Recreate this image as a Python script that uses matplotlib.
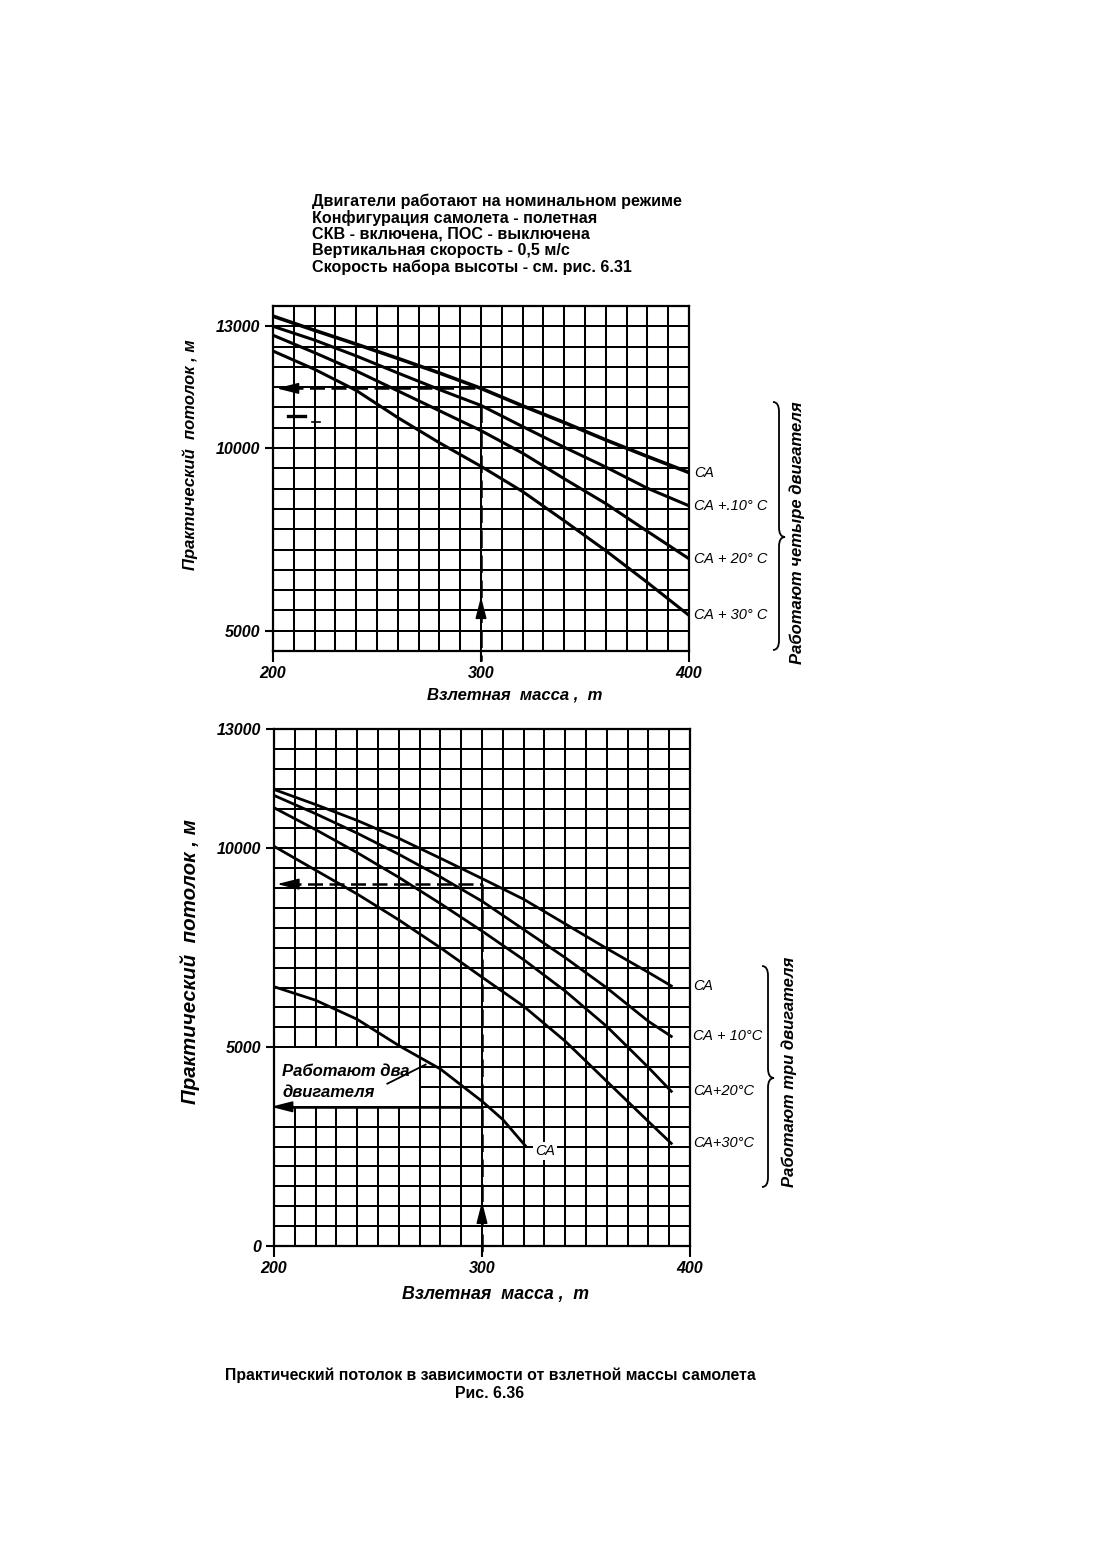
import numpy as np
import matplotlib
matplotlib.use('Agg')
import matplotlib.pyplot as plt
from matplotlib.path import Path
from matplotlib.patches import PathPatch, Rectangle
from matplotlib import font_manager as fm

plt.rcParams['font.family'] = ['Liberation Sans', 'DejaVu Sans']

try:
    fm.findfont(fm.FontProperties(family='Liberation Sans Narrow'), fallback_to_default=False)
    narrow = ['Liberation Sans Narrow', 'DejaVu Sans']
    narrow_size = 12.5
except Exception:
    narrow = ['Liberation Sans', 'DejaVu Sans']
    narrow_size = 10.5

# ---------------- data ----------------
# four engines operating (top chart)
mass_4eng = [200, 220, 240, 260, 280, 300, 320, 340, 360, 380, 400]
ceil_4_sa = [13250, 12900, 12560, 12210, 11850, 11470, 11040, 10630, 10200, 9770, 9330]
ceil_4_sa10 = [13000, 12660, 12270, 11850, 11440, 11050, 10530, 10020, 9480, 8900, 8420]
ceil_4_sa20 = [12780, 12350, 11900, 11410, 10920, 10430, 9860, 9160, 8480, 7720, 6970]
ceil_4_sa30 = [12390, 11940, 11420, 10750, 10130, 9500, 8810, 8010, 7190, 6320, 5420]
labels_4 = ['СА', 'СА +.10° С', 'СА + 20° С', 'СА + 30° С']

# three engines operating (bottom chart)
mass_3eng = [200, 220, 240, 260, 280, 300, 320, 340, 360, 380, 391]
ceil_3_sa = [11480, 11100, 10700, 10250, 9750, 9240, 8720, 8100, 7480, 6880, 6540]
ceil_3_sa10 = [11330, 10870, 10380, 9850, 9280, 8670, 7960, 7250, 6490, 5650, 5270]
ceil_3_sa20 = [11020, 10470, 9890, 9270, 8610, 7920, 7200, 6410, 5520, 4490, 3890]
ceil_3_sa30 = [10050, 9450, 8850, 8200, 7500, 6760, 6030, 5150, 4140, 3130, 2580]
labels_3 = ['СА', 'СА + 10°С', 'СА+20°С', 'СА+30°С']

# two engines operating
mass_2eng = [200, 220, 240, 260, 280, 300, 310, 321]
ceil_2_sa = [6520, 6180, 5700, 5040, 4450, 3640, 3180, 2510]

# worked example
example_mass = 300
example_ceil_4 = 11470
example_start_4 = 11050
example_ceil_3 = 9100
example_ceil_2 = 3500

x_ticks = [200, 300, 400]
y_ticks_top = [5000, 10000, 13000]
y_ticks_bot = [0, 5000, 10000, 13000]

header = ['Двигатели работают на номинальном режиме',
          'Конфигурация самолета - полетная',
          'СКВ - включена, ПОС - выключена',
          'Вертикальная скорость - 0,5 м/с',
          'Скорость набора высоты - см. рис. 6.31']

W, H = 1111, 1563
fig = plt.figure(figsize=(W / 100, H / 100), dpi=100)
fig.patch.set_facecolor('white')


def fpos(l, t, r, b):
    return [l / W, 1 - b / H, (r - l) / W, (b - t) / H]


# piecewise linear vertical scale of the upper chart (cells of 500 m above 10000, 5000/9 m below)
def fwd(y):
    y = np.asarray(y, dtype=float)
    return np.where(y >= 10000, (y - 10000) / 500.0, (y - 10000) / (5000.0 / 9))


def inv(c):
    c = np.asarray(c, dtype=float)
    return np.where(c >= 0, 10000 + c * 500.0, 10000 + c * 5000.0 / 9)


tick_font = dict(fontstyle='italic', fontweight='bold', fontsize=11.5)


def style(ax):
    ax.set_xlim(200, 400)
    ax.set_xticks(x_ticks)
    ax.set_xticks(np.arange(200, 401, 10), minor=True)
    ax.set_xticklabels([str(v) for v in x_ticks], **tick_font)
    ax.grid(which='both', color='black', lw=1.45)
    ax.set_axisbelow(True)
    for s in ax.spines.values():
        s.set_linewidth(1.6)
    ax.tick_params(which='minor', length=0)
    ax.tick_params(which='major', direction='out', length=8, width=1.5, pad=3)


def arrowhead(ax, tip, base, ms=12):
    ax.annotate('', xy=tip, xytext=base,
                arrowprops=dict(arrowstyle='-|>,head_length=1.1,head_width=0.28',
                                color='black', lw=1.2, shrinkA=0, shrinkB=0,
                                mutation_scale=ms), annotation_clip=False)


lab_font = dict(fontsize=narrow_size, fontstyle='italic', family=narrow)

# ---------------- top chart ----------------
ax1 = fig.add_axes(fpos(273, 306, 689, 651))
ax1.set_yscale('function', functions=(fwd, inv))
ax1.set_ylim(float(inv(-10)), 13500)
style(ax1)
ax1.set_yticks(y_ticks_top)
ax1.set_yticks(inv(np.arange(-10, 8)), minor=True)
ax1.set_yticklabels([str(v) for v in y_ticks_top], **tick_font)
ax1.tick_params(axis='y', which='major', length=6)

for vals, lw in [(ceil_4_sa, 2.6), (ceil_4_sa10, 2.2), (ceil_4_sa20, 2.2), (ceil_4_sa30, 2.2)]:
    ax1.plot(mass_4eng, vals, color='black', lw=lw, zorder=3, solid_capstyle='butt')
for vals, lab in zip([ceil_4_sa, ceil_4_sa10, ceil_4_sa20, ceil_4_sa30], labels_4):
    ax1.text(402.5, vals[-1], lab, va='center', ha='left', clip_on=False, **lab_font)

ax1.plot([207, example_mass], [example_ceil_4, example_ceil_4], color='black', lw=1.8,
         ls=(0, (6, 2.6)), zorder=4)
arrowhead(ax1, (201.8, example_ceil_4), (211, example_ceil_4))
ax1.plot([example_mass, example_mass], [example_start_4, 4170], color='black', lw=1.8,
         ls=(0, (7, 3)), zorder=4, clip_on=False)
arrowhead(ax1, (example_mass, 5935), (example_mass, 5450))

# ---------------- bottom chart ----------------
ax2 = fig.add_axes(fpos(274, 729, 690, 1246))
ax2.set_ylim(0, 13000)
style(ax2)
ax2.set_yticks(y_ticks_bot)
ax2.set_yticks(np.arange(0, 13001, 500), minor=True)
ax2.set_yticklabels([str(v) for v in y_ticks_bot], **tick_font)
ax2.tick_params(axis='y', which='major', length=6)

for vals in [ceil_3_sa, ceil_3_sa10, ceil_3_sa20, ceil_3_sa30]:
    ax2.plot(mass_3eng, vals, color='black', lw=2.0, zorder=3)
for vals, lab in zip([ceil_3_sa, ceil_3_sa10, ceil_3_sa20, ceil_3_sa30], labels_3):
    ax2.text(401.5, vals[-1], lab, va='center', ha='left', clip_on=False, **lab_font)

ax2.plot(mass_2eng, ceil_2_sa, color='black', lw=2.0, zorder=3)
ax2.text(325.5, ceil_2_sa[-1] - 120, 'СА', va='center', ha='left', zorder=4,
         bbox=dict(facecolor='white', edgecolor='none', pad=1.5), **lab_font)

# blank box for the two-engine caption
ax2.add_patch(Rectangle((200.6, 3530), 69.2, 1440, facecolor='white', edgecolor='none',
                        zorder=1.5))
ax2.text(204, 4380, 'Работают два', fontsize=12, fontstyle='italic', fontweight='bold',
         va='center', ha='left', zorder=4)
ax2.text(204, 3870, 'двигателя', fontsize=12, fontstyle='italic', fontweight='bold',
         va='center', ha='left', zorder=4)
ax2.plot([254.5, 272.9], [4082, 4562], color='black', lw=1.3, zorder=4)
ax2.plot([205, example_mass], [example_ceil_2, example_ceil_2], color='black', lw=1.8,
         zorder=4)
arrowhead(ax2, (198.5, example_ceil_2), (208, example_ceil_2))

ax2.plot([206, example_mass], [example_ceil_3, example_ceil_3], color='black', lw=1.8,
         ls=(0, (6, 2.6)), zorder=4)
arrowhead(ax2, (201.5, example_ceil_3), (211, example_ceil_3))
ax2.plot([example_mass, example_mass], [example_ceil_3, -180], color='black', lw=1.8,
         ls=(0, (7, 3)), zorder=4, clip_on=False)
arrowhead(ax2, (example_mass, 1120), (example_mass, 560))

# ---------------- overlay (pixel space) for labels and braces ----------------
ov = fig.add_axes([0, 0, 1, 1])
ov.set_xlim(0, W)
ov.set_ylim(H, 0)
ov.axis('off')
ov.patch.set_alpha(0)


def brace(x, y0, y1, ytip, w):
    xm = x + w * 0.5
    r = w * 0.8
    verts = [(x, y0), (xm, y0), (xm, y0 + r), (xm, ytip - r), (xm, ytip), (x + w, ytip),
             (xm, ytip), (xm, ytip + r), (xm, y1 - r), (xm, y1), (x, y1)]
    codes = [Path.MOVETO, Path.CURVE3, Path.CURVE3, Path.LINETO, Path.CURVE3, Path.CURVE3,
             Path.CURVE3, Path.CURVE3, Path.LINETO, Path.CURVE3, Path.CURVE3]
    ov.add_patch(PathPatch(Path(verts, codes), facecolor='none', edgecolor='black', lw=1.3))


brace(773, 402, 650, 537, 12)
brace(762, 966, 1187, 1078, 12)
ov.text(797, 533, 'Работают четыре двигателя', rotation=90, fontsize=12,
        fontstyle='italic', fontweight='bold', ha='center', va='center')
ov.text(789, 1072, 'Работают три двигателя', rotation=90, fontsize=12,
        fontstyle='italic', fontweight='bold', ha='center', va='center')

# stray pen marks inside the upper grid
ov.plot([288, 305], [416, 416], color='black', lw=2.4)
ov.plot([312, 320], [422, 422], color='black', lw=1.2)

# header
for i, line in enumerate(header):
    ov.text(312, 201 + i * 16.5, line, fontsize=11.6, fontweight='bold', ha='left',
            va='center')

# axis titles
ov.text(190, 455, 'Практический  потолок , м', rotation=90, fontsize=12,
        fontstyle='italic', fontweight='bold', ha='center', va='center')
ov.text(515, 695, 'Взлетная  масса ,  т', fontsize=12, fontstyle='italic',
        fontweight='bold', ha='center', va='center')
ov.text(190, 962, 'Практический  потолок , м', rotation=90, fontsize=14.8,
        fontstyle='italic', fontweight='bold', ha='center', va='center')
ov.text(495, 1295, 'Взлетная  масса ,  т', fontsize=12.8, fontstyle='italic',
        fontweight='bold', ha='center', va='center')

# caption
ov.text(490, 1375, 'Практический потолок в зависимости от взлетной массы самолета',
        fontsize=11.4, fontweight='bold', ha='center', va='center')
ov.text(490, 1393, 'Рис. 6.36', fontsize=11.4, fontweight='bold', ha='center', va='center')

fig.savefig('out.png', dpi=100, facecolor='white')
